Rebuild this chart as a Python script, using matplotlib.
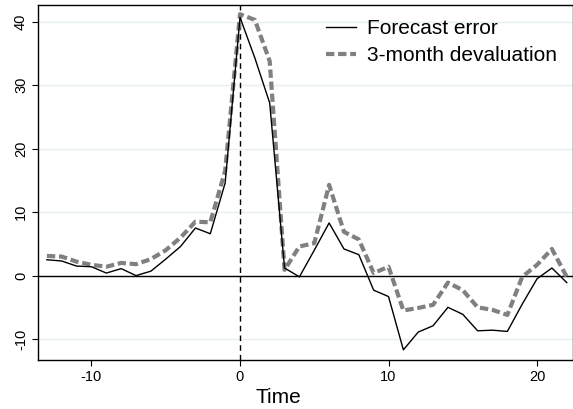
import matplotlib
matplotlib.use("Agg")
import matplotlib.pyplot as plt

plt.rcParams['font.family'] = ['Liberation Sans', 'DejaVu Sans']
plt.rcParams['axes.unicode_minus'] = False

time = list(range(-13, 23))
forecast_error = [2.5, 2.3, 1.5, 1.4, 0.4, 1.1, 0.0, 0.7, 2.6, 4.6, 7.5, 6.6, 14.6,
                  40.7, 34.3, 27.2, 1.2, -0.2, 4.0, 8.3, 4.2, 3.3, -2.3, -3.3,
                  -11.7, -8.9, -7.9, -5.0, -6.1, -8.7, -8.6, -8.8, -4.5, -0.5, 1.2, -1.1]
devaluation = [3.1, 3.0, 2.2, 1.7, 1.4, 2.0, 1.8, 2.6, 4.0, 6.0, 8.5, 8.4, 16.5,
               41.2, 40.3, 33.8, 0.9, 4.6, 5.1, 14.3, 6.9, 5.7, 0.4, 1.4,
               -5.5, -5.1, -4.6, -1.1, -2.3, -5.0, -5.4, -6.2, -0.2, 1.7, 4.2, -0.2]
xticks = [-10, 0, 10, 20]
yticks = [-10, 0, 10, 20, 30, 40]

fig = plt.figure(figsize=(5.73, 4.09), dpi=100)
ax = fig.add_axes([37.7/573, 1 - 360/409, (573 - 37.7)/573, (360 - 5.3)/409])

for y in yticks:
    ax.axhline(y, color='#e8eff0', lw=1.0, zorder=0)
ax.axhline(0, color='black', lw=1.0, zorder=1)
ax.axvline(0, color='black', lw=1.0, ls=(0, (4, 3)), zorder=1)

ax.plot(time, forecast_error, color='black', lw=1.0, label='Forecast error', zorder=3)
ax.plot(time, devaluation, color='#808080', lw=3.0, ls=(0, (2.0, 0.9)),
        label='3-month devaluation', zorder=2)

ax.set_xlim(-13.62, 22.42)
ax.set_ylim(-13.3, 42.6)
ax.set_xticks(xticks)
ax.set_yticks(yticks)
ax.tick_params(axis='both', direction='out', length=4, width=0.8, labelsize=10.5,
               colors='black', pad=3)
for lab in ax.get_yticklabels():
    lab.set_rotation(90)
    lab.set_va('center')

for s in ax.spines.values():
    s.set_linewidth(1.0)
    s.set_color('black')

ax.set_xlabel('Time', fontsize=15)
ax.xaxis.set_label_coords(0.449, -0.08)

leg = ax.legend(loc='upper right', bbox_to_anchor=(0.995, 1.0), frameon=False, fontsize=15,
                handlelength=1.45, handletextpad=0.5, labelspacing=0.4, borderaxespad=0.25)

fig.savefig('out.png', dpi=100)
